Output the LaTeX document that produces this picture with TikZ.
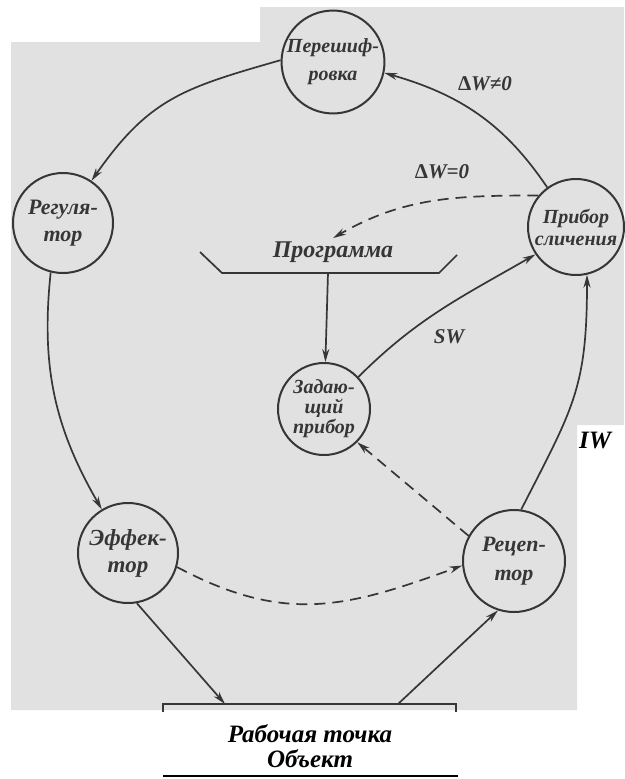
\documentclass[tikz,border=0pt]{standalone}
\usepackage{fontspec}
\setmainfont{Liberation Serif}
\usetikzlibrary{arrows.meta}
\definecolor{ink}{HTML}{363636}
\definecolor{paper}{HTML}{E1E1E1}
\tikzset{
  unit/.style={circle, draw=ink, line width=2pt, minimum size=98pt, inner sep=0pt,
    align=center, text=ink, font=\bfseries\itshape\fontsize{20}{22}\selectfont},
  link/.style={draw=ink, line width=1.7pt, -{Stealth[length=13pt,width=7pt]}},
  dlink/.style={link, dash pattern=on 11pt off 7pt},
  tag/.style={text=ink, font=\bfseries\itshape\fontsize{21}{24}\selectfont},
  caption/.style={align=center, font=\bfseries\itshape\fontsize{25}{25}\selectfont},
}

\begin{document}
\begin{tikzpicture}[x=1pt, y=-1pt]
  \useasboundingbox (0,0) rectangle (624,779);
  % scanned page
  \fill[paper] (11,42) -- (260,42) -- (260,7) -- (624,7) -- (624,425)
    -- (577,425) -- (577,710) -- (11,710) -- cycle;

  \node[unit, minimum size=100pt, font=\bfseries\itshape\fontsize{20}{28}\selectfont]
    (per) at (333,62) {Перешиф-\\ровка};
  \node[unit, minimum size=100pt, font=\bfseries\itshape\fontsize{22}{27}\selectfont]
    (reg) at (63,223) {Регуля-\\тор};
  \node[unit, minimum size=96pt] (prib) at (576,227) {Прибор\\сличения};
  \node[unit, minimum size=92pt, font=\bfseries\itshape\fontsize{20}{20}\selectfont]
    (zad) at (324,409) {Задаю-\\щий\\прибор};
  \node[unit, minimum size=100pt, font=\bfseries\itshape\fontsize{23}{27}\selectfont]
    (eff) at (128,553) {Эффек-\\тор};
  \node[unit, minimum size=102pt, font=\bfseries\itshape\fontsize{22}{29}\selectfont]
    (rec) at (514,561) {Рецеп-\\тор};

  \node[tag, font=\bfseries\itshape\fontsize{24}{24}\selectfont] (prog) at (333,252) {Программа};
  \draw[ink, line width=1.7pt] (200,252) -- (222,273) -- (439,273) -- (457,255);
  \coordinate (progbase) at (328,273);

  % object
  \coordinate (objin) at (225,704);
  \coordinate (objout) at (398,704);
  \draw[ink, line width=1.7pt] (163,712) -- (163,704) -- (456,704) -- (456,712);
  \node[caption] (obj) at (310,746) {Рабочая точка\\Объект};
  \draw[line width=1.2pt] (163,776) -- (458,776);

  \draw[link] (per.178) to[out=196, in=55, looseness=1.15] (reg.56);
  \draw[link] (prib.126) to[out=124, in=-16] (per.-12);
  \draw[link] (reg.-104) to[out=-96, in=120] (eff.121);
  \draw[link] (eff.-80) -- (objin);
  \draw[link] (objout) -- (rec.-108);
  \draw[link] (rec.82) to[out=63, in=-90, looseness=1.2] (prib.-77);
  \draw[link] (progbase) -- (zad);
  \draw[link] (zad.43) to[out=45, in=210] (prib.214);
  \draw[dlink] (prib.140) to[out=180, in=30] (prog.north);
  \draw[dlink] (rec.151) -- (zad.-45);
  \draw[dlink] (eff.-16) to[out=-28, in=200, looseness=1.1] (rec.185);

  \node[tag] (neq) at (485,84) {{\upshape Δ}W≠0};
  \node[tag] (eq) at (442,172) {{\upshape Δ}W=0};
  \node[tag] (sw) at (449,337) {SW};
  \node[caption] (iw) at (595,440) {IW};
\end{tikzpicture}
\end{document}
